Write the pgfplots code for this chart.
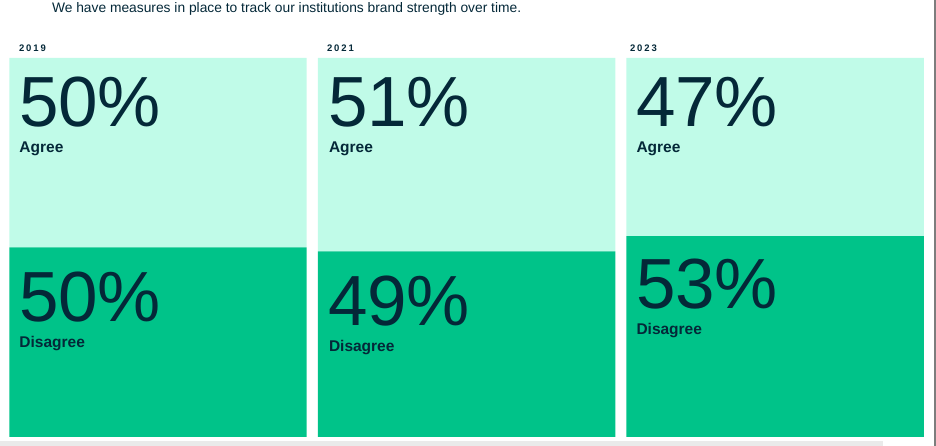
\documentclass[border=0pt]{standalone}
\usepackage{pgfplots}
\pgfplotsset{compat=1.18}
\usepackage{fontspec}
\setmainfont{Liberation Sans}
\definecolor{mint}{RGB}{192,251,232}
\definecolor{grn}{RGB}{0,195,137}
\definecolor{navy}{RGB}{4,40,56}
\definecolor{stripgray}{RGB}{234,234,234}
\definecolor{edgegray}{RGB}{125,125,125}
\newcommand{\px}[2]{([xshift=#1pt,yshift=-#2pt]current axis.north west)}
\tikzset{lbl/.style={inner sep=0pt, outer sep=0pt, anchor=base west, text=navy},
  yr/.style={lbl, font=\fontsize{9.5}{9.5}\selectfont\bfseries\addfontfeatures{LetterSpace=20}},
  big/.style={lbl, text depth=0pt, font=\fontsize{71}{71}\selectfont},
  sm/.style={lbl, font=\fontsize{15.5}{15.5}\selectfont\bfseries}}
\begin{document}
\begin{tikzpicture}
\begin{axis}[
  scale only axis, width=936pt, height=446pt,
  xmin=-0.51216, xmax=2.52188,
  ymin=-2.3747, ymax=115.3034,
  hide axis, clip=false,
  ybar stacked, bar width=0.9643, bar shift=0pt,
]
% Disagree (bottom), Agree (top)
\addplot[fill=grn, draw=none] coordinates {(0,50) (1,49) (2,53)};
\addplot[fill=mint, draw=none] coordinates {(0,50) (1,51) (2,47)};
\end{axis}

\fill[stripgray] \px{0}{441} rectangle \px{883}{446};
\fill[edgegray] \px{934}{0} rectangle \px{935.5}{446};

\node[lbl, font=\fontsize{13.8}{13.8}\selectfont] at \px{52}{12.5}
  {We have measures in place to track our institutions brand strength over time.};

\node[yr] at \px{19}{52} {2019};
\node[yr] at \px{327}{52} {2021};
\node[yr] at \px{630}{52} {2023};

\node[big] at \px{19}{127} {50\%};
\node[big] at \px{328}{127} {51\%};
\node[big] at \px{636}{127} {47\%};
\node[sm] at \px{19.5}{152.5} {Agree};
\node[sm] at \px{329}{152.5} {Agree};
\node[sm] at \px{636.5}{152.5} {Agree};

\node[big] at \px{19}{322} {50\%};
\node[big] at \px{328}{325.5} {49\%};
\node[big] at \px{636}{309} {53\%};
\node[sm] at \px{19.5}{348} {Disagree};
\node[sm] at \px{329}{351.5} {Disagree};
\node[sm] at \px{636.5}{334.5} {Disagree};

\pgfresetboundingbox
\path (current axis.south west) rectangle (current axis.north east);
\end{tikzpicture}
\end{document}
